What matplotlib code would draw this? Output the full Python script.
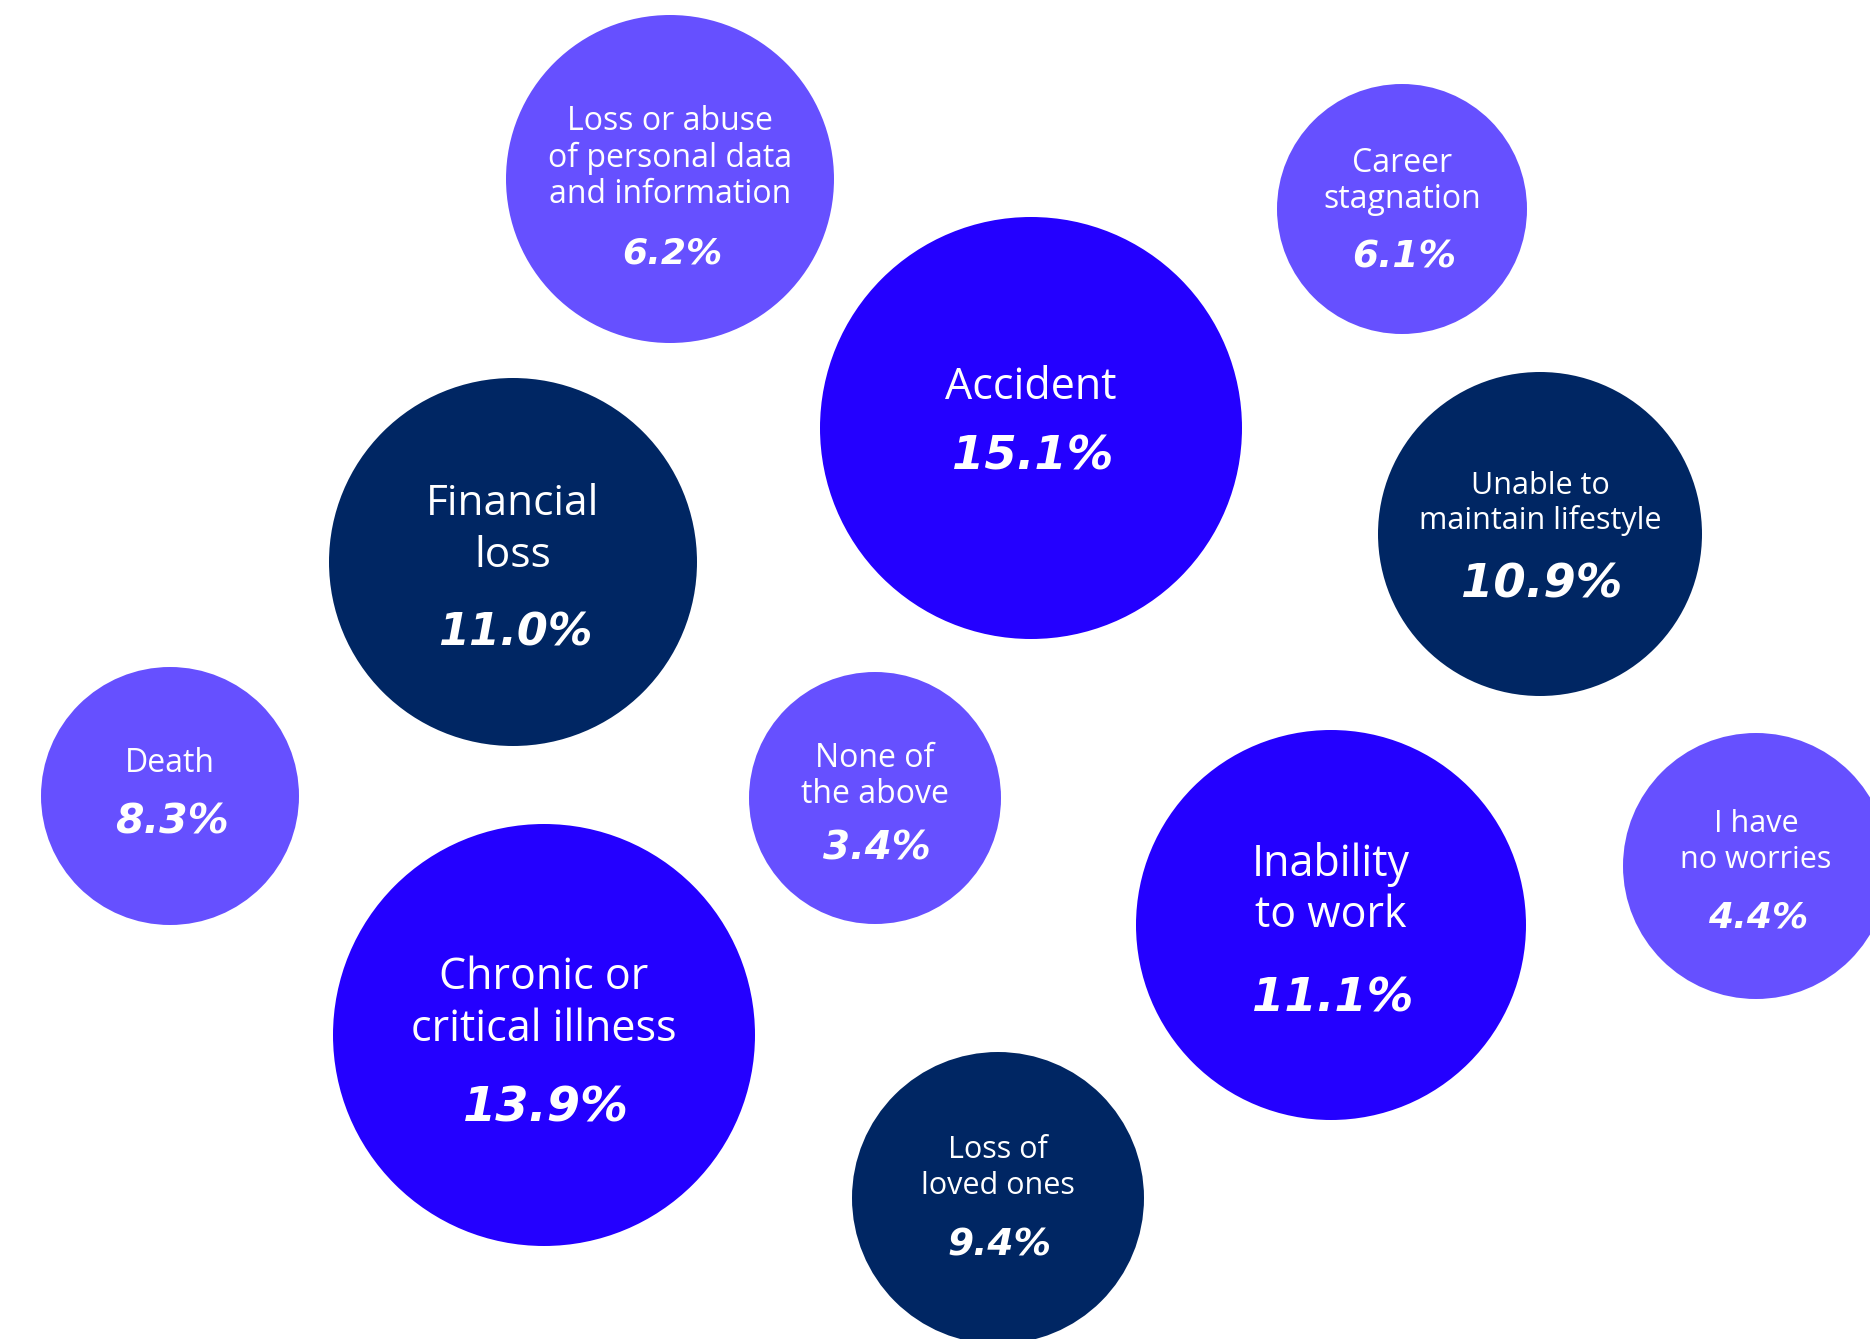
import matplotlib
matplotlib.use("Agg")
import matplotlib.pyplot as plt
from matplotlib.patches import Circle

# Survey answers and their shares (%)
categories = [
    "Loss or abuse\nof personal data\nand information",
    "Career\nstagnation",
    "Accident",
    "Financial\nloss",
    "Unable to\nmaintain lifestyle",
    "Death",
    "None of\nthe above",
    "Inability\nto work",
    "I have\nno worries",
    "Chronic or\ncritical illness",
    "Loss of\nloved ones",
]
values = [6.2, 6.1, 15.1, 11.0, 10.9, 8.3, 3.4, 11.1, 4.4, 13.9, 9.4]

# Layout (pixel space, y downward): bubble centres and radii
cx = [670, 1402, 1031, 513, 1540, 170, 875, 1331, 1756, 544, 998]
cy = [179, 209, 428, 562, 534, 796, 798, 925, 866, 1035, 1198]
rad = [164, 125, 211, 184, 162, 129, 126, 195, 133, 211, 146]

# Bubble styles
LIGHT, BRIGHT, NAVY = "#6650FF", "#2400FF", "#002663"
colors = [LIGHT, LIGHT, BRIGHT, NAVY, NAVY, LIGHT, LIGHT, BRIGHT, LIGHT, BRIGHT, NAVY]

# Text placement: baseline offsets of label lines and value, font sizes
label_offsets = [[-49, -12, 24], [-37, -1], [-29], [-47, 5], [-40, -5], [-24],
                 [-31, 5], [-49, 2], [-34, 2], [-46, 6], [-40, -4]]
value_offsets = [84, 59, 42, 83, 64, 37, 61, 87, 61, 86, 57]
label_sizes = [23, 23, 31, 30.5, 22, 23, 23, 31, 22, 31, 22]
value_sizes = [26, 27, 33.5, 32, 33.5, 29.5, 28, 33.5, 26, 34.5, 27]

LABEL_FONT = ["Open Sans", "DejaVu Sans"]
VALUE_FONT = ["DejaVu Sans"]

W, H = 1870, 1339
fig = plt.figure(figsize=(W / 100, H / 100), dpi=100)
ax = fig.add_axes([0, 0, 1, 1])
ax.set_xlim(0, W)
ax.set_ylim(H, 0)
ax.set_aspect("equal")
ax.axis("off")

for i, (lab, val) in enumerate(zip(categories, values)):
    ax.add_patch(Circle((cx[i], cy[i]), rad[i], facecolor=colors[i],
                        edgecolor="none", antialiased=True))
    for line, off in zip(lab.split("\n"), label_offsets[i]):
        ax.text(cx[i], cy[i] + off, line, ha="center", va="baseline",
                color="white", fontsize=label_sizes[i], family=LABEL_FONT)
    ax.text(cx[i] + 2, cy[i] + value_offsets[i], f"{val:.1f}%", ha="center",
            va="baseline", color="white", fontsize=value_sizes[i],
            family=VALUE_FONT, fontweight="bold", fontstyle="oblique")

fig.savefig("out.png", dpi=100, facecolor="white")
